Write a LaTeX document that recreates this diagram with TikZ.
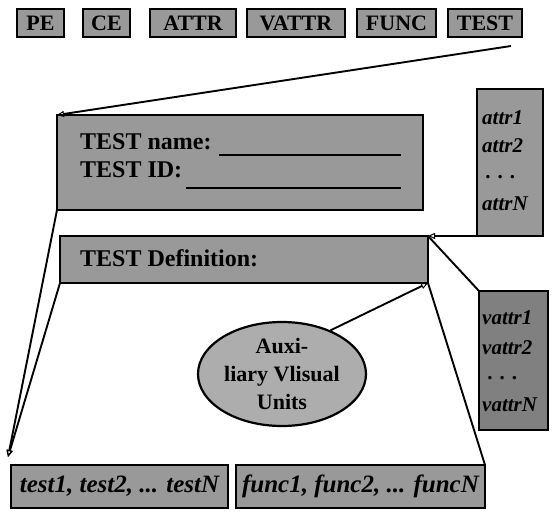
\documentclass[tikz,border=0pt]{standalone}
\usepackage{fontspec}
\setmainfont{Liberation Serif}[
  UprightFont=*, BoldFont=* Bold, ItalicFont=* Italic, BoldItalicFont=* Bold Italic]
\usetikzlibrary{arrows.meta,shapes.geometric}
\begin{document}
\begin{tikzpicture}[x=1pt,y=-1pt,
  shaded/.style={draw=black, line width=2.4pt, fill=black!40, inner sep=0pt, outer sep=0pt, anchor=north west},
  tag/.style={shaded, font=\bfseries\fontsize{22}{22}\selectfont},
  lbl/.style={inner sep=0pt, anchor=west, font=\bfseries\fontsize{24}{24}\selectfont},
  itl/.style={inner sep=0pt, anchor=west, font=\bfseries\itshape\fontsize{21}{21}\selectfont},
  listbox/.style={shaded, font=\bfseries\itshape\fontsize{25}{25}\selectfont},
  conn/.style={line width=1.9pt},
  tri/.style={-{Triangle[open,length=7pt,width=6pt,line width=1pt]}},
  rule/.style={line width=1.7pt}]
\useasboundingbox (0,0) rectangle (552,513);

% palette of element kinds
\node[tag, minimum width=47, minimum height=28] (pe)    at (17,9)  {PE};
\node[tag, minimum width=47, minimum height=28] (ce)    at (83,9)  {CE};
\node[tag, minimum width=86, minimum height=28] (attr)  at (150,9) {ATTR};
\node[tag, minimum width=98, minimum height=28] (vattr) at (247,9) {VATTR};
\node[tag, minimum width=79, minimum height=28] (func)  at (357,9) {FUNC};
\node[tag, minimum width=74, minimum height=28] (test)  at (448,9) {TEST};

% header panel
\node[shaded, minimum width=366, minimum height=95] (namebox) at (57,115) {};
\node[lbl] (tname) at (80,142) {TEST name:};
\draw[rule] (219,155) -- (401,155);
\node[lbl] (tid) at (80,170) {TEST ID:};
\draw[rule] (186,188) -- (401,188);

% definition panel
\node[shaded, minimum width=368, minimum height=47] (def) at (60,236) {};
\node[lbl] (tdef) at (80,258) {TEST Definition:};

% attribute list
\node[shaded, minimum width=66, minimum height=147] (attrs) at (477,89) {};
\node[itl] (a1) at (482,118) {attr1};
\node[itl] (a2) at (482,146) {attr2};
\node[itl] (a3) at (486,177) {. . .};
\node[itl] (aN) at (482,204) {attrN};

% visual attribute list
\node[shaded, minimum width=69, minimum height=139, fill=black!50] (vattrs) at (479,291) {};
\node[itl] (v1) at (482,318) {vattr1};
\node[itl] (v2) at (482,348) {vattr2};
\node[itl] (v3) at (488,378) {. . .};
\node[itl] (vN) at (482,405) {vattrN};

% auxiliary units
\node[draw, ellipse, line width=2.2pt, fill=black!32, minimum width=168, minimum height=104,
      inner sep=0pt, align=center, font=\bfseries\fontsize{22}{28}\selectfont] (aux) at (282,374)
      {Auxi-\\liary Vlisual\\Units};

% bottom lists
\node[listbox, minimum width=217, minimum height=43] (tests) at (11,465) {test1, test2, ... testN};
\node[listbox, minimum width=249, minimum height=43] (funcs) at (236,465) {func1, func2, ... funcN};

% connectors
\coordinate (tip) at (8,457);
\draw[conn, tri] ([shift={(-11,9)}]test.south east) -- (namebox.north west);
\draw[conn, tri] (attrs.south west) -- (def.north east);
\draw[conn] (vattrs.north west) -- (def.north east);
\draw[conn, tri] (aux.42) -- (def.south east);
\draw[conn] (def.south east) -- (funcs.north east);
\draw[conn, tri] (namebox.south west) -- (tip);
\draw[conn, tri] (def.south west) -- (tip);
\end{tikzpicture}
\end{document}
